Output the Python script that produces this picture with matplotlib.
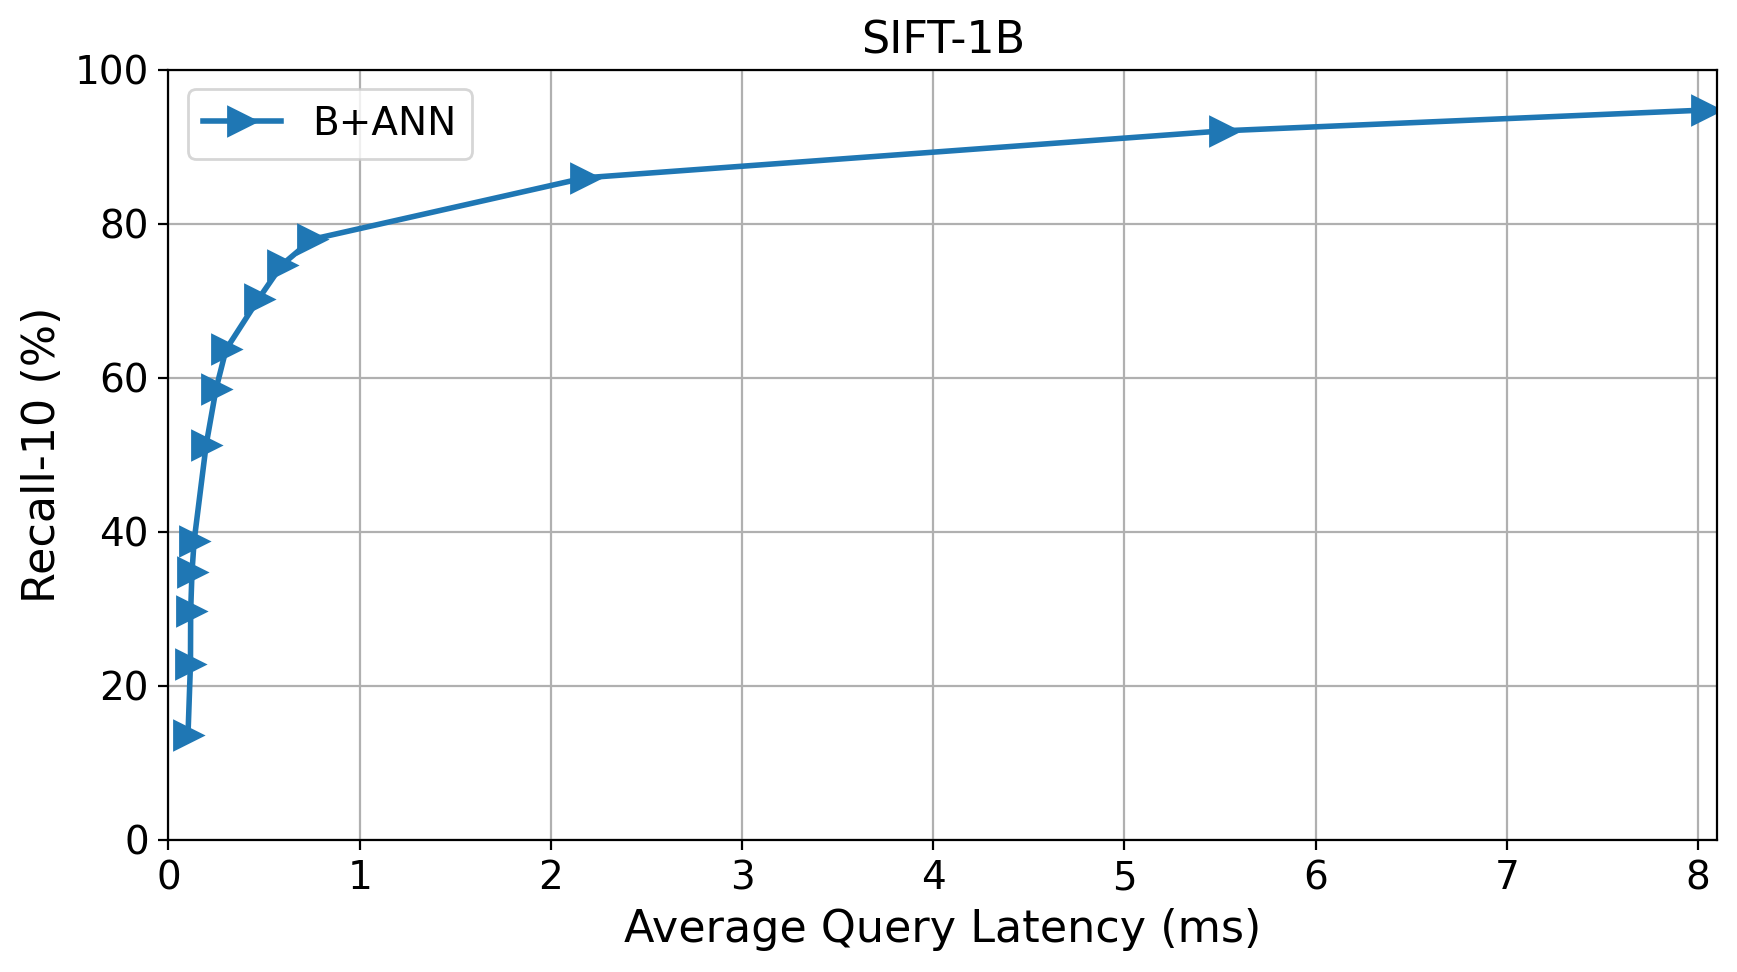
import matplotlib
matplotlib.use('Agg')
import matplotlib.pyplot as plt

latency_ms = [0.102, 0.115, 0.116, 0.123, 0.134, 0.197, 0.249, 0.301, 0.472, 0.594, 0.751, 2.18, 5.52, 8.04]
recall_10 = [13.6, 22.9, 29.7, 34.8, 38.8, 51.3, 58.6, 63.7, 70.3, 74.7, 78.0, 86.0, 92.1, 94.8]
series_label = 'B+ANN'

fig, ax = plt.subplots(figsize=(8.685, 4.86), dpi=200)
ax.plot(latency_ms, recall_10, marker='>', markersize=10, linewidth=2, color='#1f77b4', label=series_label)

ax.set_title('SIFT-1B', fontsize=16)
ax.set_xlabel('Average Query Latency (ms)', fontsize=16)
ax.set_ylabel('Recall-10 (%)', fontsize=16)
ax.set_xlim(0, 8.1)
ax.set_ylim(0, 100)
ax.tick_params(labelsize=14)
ax.grid(True)
ax.legend(loc='upper left', fontsize=14)

fig.subplots_adjust(left=0.097, right=0.9885, top=0.928, bottom=0.136)
plt.savefig('out.png', dpi=200)
